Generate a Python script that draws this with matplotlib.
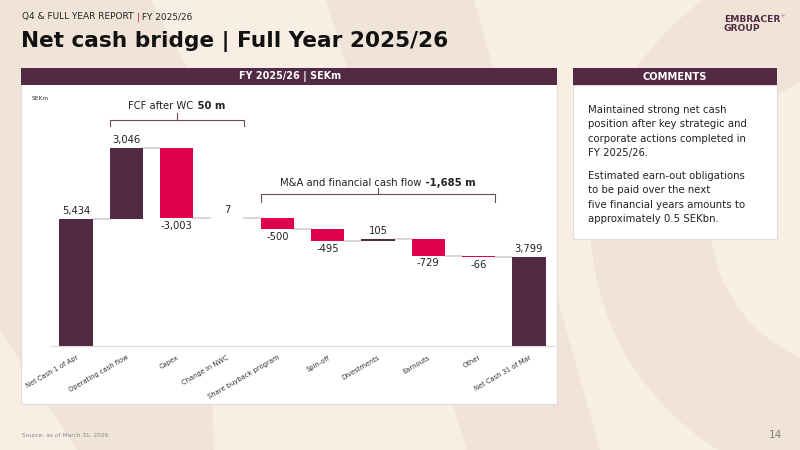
import matplotlib.pyplot as plt
from matplotlib.patches import Rectangle, Polygon, Wedge
from matplotlib.transforms import offset_copy
import numpy as np

plt.rcParams['font.family'] = ['DejaVu Sans']

# Data
categories = ['Net Cash 1 of Apr', 'Operating cash flow', 'Capex', 'Change in NWC',
              'Share buyback program', 'Spin-off', 'Divestments', 'Earnouts', 'Other',
              'Net Cash 31 of Mar']
values = [5434, 3046, -3003, 7, -500, -495, 105, -729, -66, 3799]
is_total = [True, False, False, False, False, False, False, False, False, True]
value_labels = ['5,434', '3,046', '-3,003', '7', '-500', '-495', '105', '-729', '-66', '3,799']

comments = [
    "Maintained strong net cash\nposition after key strategic and\ncorporate actions completed in\nFY 2025/26.",
    "Estimated earn-out obligations\nto be paid over the next\nfive financial years amounts to\napproximately 0.5 SEKbn.",
]

PURPLE = '#522A44'
RED = '#E0004D'
BG = '#F9EEE4'
BG_DARK = '#F0E4D9'

fig = plt.figure(figsize=(8, 4.5), dpi=100)
fig.patch.set_facecolor(BG)
renderer = fig.canvas.get_renderer()


def rich_text(ax, x, y, parts, center=False, **kw):
    # parts: list of (text, weight, color) drawn side by side
    items = []
    for txt, weight, color in parts:
        t = ax.text(x, y, txt, fontweight=weight, color=color, ha='left', **kw)
        items.append(t)
    widths = [t.get_window_extent(renderer).width for t in items]
    shift = -sum(widths) / 2 if center else 0
    for t, wd in zip(items, widths):
        t.set_transform(offset_copy(ax.transData, fig=fig, x=shift * 72 / fig.dpi, y=0, units='points'))
        shift += wd
    return items


# background / decoration axes in pixel coordinates
bg = fig.add_axes([0, 0, 1, 1])
bg.set_xlim(0, 800)
bg.set_ylim(450, 0)
bg.axis('off')

# soft background shapes
bg.add_patch(Polygon([(0, 0), (150, 0), (200, 90), (214, 450), (77, 450), (0, 330)],
                     closed=True, fc=BG_DARK, ec='none'))
bg.add_patch(Polygon([(326, 0), (474, 0), (600, 450), (467, 450)],
                     closed=True, fc=BG_DARK, ec='none'))
bg.add_patch(Wedge((860, 220), 270, 0, 360, width=120, fc=BG_DARK, ec='none'))

# header texts
rich_text(bg, 22, 17, [('Q4 & FULL YEAR REPORT', 'normal', '#222222'),
                       (' |', 'normal', RED),
                       (' FY 2025/26', 'normal', '#222222')], fontsize=6.5, va='center')
bg.text(21, 42, 'Net cash bridge | Full Year 2025/26', fontsize=15.6, fontweight='bold',
        color='#111111', va='center', ha='left')

# logo
bg.text(724, 19, 'EMBRACER', fontsize=6.6, fontweight='bold', color=PURPLE, va='center', ha='left')
bg.text(779, 16, '+', fontsize=5, color='#B88FA5', va='center', ha='left')
bg.text(724, 28.5, 'GROUP', fontsize=6.6, fontweight='bold', color=PURPLE, va='center', ha='left')

# left panel
bg.add_patch(Rectangle((21, 84), 536, 320, fc='white', ec='#E3D8DE', lw=0.8))
bg.add_patch(Rectangle((21, 68), 536, 17, fc=PURPLE, ec='none'))
bg.text(290, 76.5, 'FY 2025/26 | SEKm', fontsize=6.9, fontweight='bold', color='white',
        va='center', ha='center')
bg.text(32, 99, 'SEKm', fontsize=4.2, color='#333333', va='center', ha='left')

# right panel
bg.add_patch(Rectangle((573, 85), 204, 154, fc='white', ec='#E3D8DE', lw=0.8))
bg.add_patch(Rectangle((573, 68), 204, 17, fc=PURPLE, ec='none'))
bg.text(675, 76.5, 'COMMENTS', fontsize=7.1, fontweight='bold', color='white',
        va='center', ha='center')
for y0, para in zip([110, 176], comments):
    for k, line in enumerate(para.split('\n')):
        bg.text(588, y0 + k * 14.3, line, fontsize=7.3, color='#222222', va='center', ha='left')

# footer
bg.text(22, 435, 'Source: as of March 31, 2026', fontsize=4.2, color='#888888', va='center', ha='left')
bg.text(782, 435, '14', fontsize=7.5, color='#808080', va='center', ha='right')

# chart axes
ax = fig.add_axes([50 / 800, (450 - 346) / 450, 504 / 800, (346 - 100) / 450])
ax.set_zorder(2)
ax.patch.set_visible(False)

x = np.arange(len(values))
vals = np.array(values)
running = [vals[0]]
for v in vals[1:-1]:
    running.append(running[-1] + v)
running.append(vals[-1])
running = np.array(running)

bottoms = []
heights = []
colors = []
for i, v in enumerate(vals):
    if is_total[i]:
        bottoms.append(0)
        heights.append(v)
        colors.append(PURPLE)
    else:
        prev = running[i - 1]
        bottoms.append(min(prev, prev + v))
        heights.append(abs(v))
        colors.append(PURPLE if v > 0 else RED)

w = 0.66
ax.bar(x, heights, bottom=bottoms, width=w, color=colors, zorder=3)

# connectors
for i in range(len(vals) - 1):
    ax.plot([x[i] + w / 2, x[i + 1] - w / 2], [running[i], running[i]],
            color='#D6CED3', lw=1.2, zorder=2)

# value labels
for i, v in enumerate(vals):
    top = bottoms[i] + heights[i]
    if is_total[i] or v > 0:
        ax.annotate(value_labels[i], (x[i], top), xytext=(0, 2), textcoords='offset points',
                    ha='center', va='bottom', fontsize=7.2, color='#222222')
    else:
        ax.annotate(value_labels[i], (x[i], bottoms[i]), xytext=(0, -2), textcoords='offset points',
                    ha='center', va='top', fontsize=7.2, color='#222222')


# brackets
def bracket(x0, x1, y, drop, rise, label_norm, label_bold, ytext):
    ax.plot([x0, x0, x1, x1], [y - drop, y, y, y - drop], color='#6B4A5E', lw=0.8, clip_on=False)
    xm = (x0 + x1) / 2
    ax.plot([xm, xm], [y, y + rise], color='#6B4A5E', lw=0.8, clip_on=False)
    rich_text(ax, xm, ytext, [(label_norm, 'normal', '#222222'),
                              (' ' + label_bold, 'bold', '#222222')],
              center=True, fontsize=7.2, va='center')


fcf = sum(values[1:4])
mna = sum(values[4:9])
ax.set_xlim(-0.517, 9.497)
ax.set_ylim(0, 10513)
bracket(1 - w / 2, 3 + w / 2, 9658, 256, 300, 'FCF after WC', f'{fcf:,} m', 10256)
bracket(4 - w / 2, 8 + w / 2, 6496, 342, 256, 'M&A and financial cash flow', f'{mna:,} m', 6966)

ax.set_yticks([])
ax.set_xticks(x)
ax.set_xticklabels(categories, rotation=30, ha='right', rotation_mode='anchor',
                   fontsize=4.9, color='#333333')
ax.tick_params(axis='x', length=0, pad=6)
for s in ['top', 'right', 'left']:
    ax.spines[s].set_visible(False)
ax.spines['bottom'].set_color('#DDDDDD')
ax.spines['bottom'].set_linewidth(1)

fig.savefig('out.png', dpi=100, facecolor=BG)
